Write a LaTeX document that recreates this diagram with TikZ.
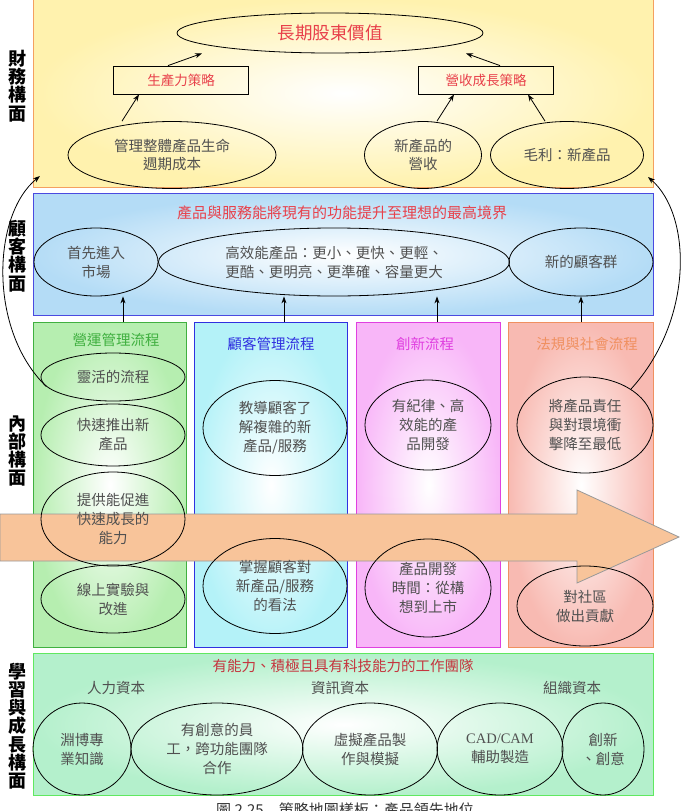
\documentclass[tikz,border=0pt]{standalone}
\usepackage{fontspec}
\setmainfont{Noto Sans CJK TC}
\newfontfamily\latinserif{Liberation Serif}
\usetikzlibrary{shapes.geometric,arrows.meta}
\definecolor{txtgray}{HTML}{505050}
\definecolor{redt}{HTML}{E8404A}
\definecolor{finfill}{HTML}{FFF2AE}
\definecolor{finedge}{HTML}{F4A060}
\definecolor{custfill}{HTML}{B4DCF6}
\definecolor{custedge}{HTML}{4A4AE0}
\definecolor{opsfill}{HTML}{B6EEB0}
\definecolor{opsedge}{HTML}{40B040}
\definecolor{cmfill}{HTML}{B4F2F8}
\definecolor{cmedge}{HTML}{3030E0}
\definecolor{innfill}{HTML}{F8B6F8}
\definecolor{innedge}{HTML}{E040E0}
\definecolor{legfill}{HTML}{F8BAB2}
\definecolor{legedge}{HTML}{F09060}
\definecolor{lrnfill}{HTML}{B4F0CC}
\definecolor{lrnedge}{HTML}{60E860}
\definecolor{bigarrow}{HTML}{F8C49A}
\begin{document}
\begin{tikzpicture}[x=1pt,y=-1pt,
  zone/.style={rectangle,line width=1.2pt,shading=radial,inner color=white,anchor=north west,inner sep=0pt},
  ell/.style={draw=black,ellipse,inner sep=0pt,align=center,text=txtgray,line width=0.8pt,font=\fontsize{14.5}{19}\selectfont},
  strat/.style={draw=black,rectangle,line width=0.8pt,minimum width=135pt,minimum height=28pt,text=redt,font=\fontsize{13.5}{16}\selectfont},
  lab/.style={align=center,font=\fontsize{18}{18.2}\selectfont\bfseries,inner sep=0pt},
  ttl/.style={font=\fontsize{14.5}{17}\selectfont,inner sep=0pt},
  arr/.style={-{Stealth[length=7pt,width=5pt]},line width=0.8pt}]
\useasboundingbox[fill=white] (0,0) rectangle (680,811);

% zones
\node[zone,draw=finedge,outer color=finfill,minimum width=620pt,minimum height=189pt] (fin) at (33,-2) {};
\node[zone,draw=custedge,outer color=custfill,minimum width=620pt,minimum height=122pt] (cust) at (33,193) {};
\node[zone,draw=opsedge,outer color=opsfill,minimum width=153pt,minimum height=325pt] (ops) at (33,322) {};
\node[zone,draw=cmedge,outer color=cmfill,minimum width=153pt,minimum height=325pt] (cm) at (194,322) {};
\node[zone,draw=innedge,outer color=innfill,minimum width=144pt,minimum height=325pt] (inn) at (356,322) {};
\node[zone,draw=legedge,outer color=legfill,minimum width=145pt,minimum height=325pt] (leg) at (508,322) {};
\node[zone,draw=lrnedge,outer color=lrnfill,minimum width=620pt,minimum height=142pt] (lrn) at (33,653) {};

% side labels
\node[lab] (lfin) at (18,86) {財\\務\\構\\面};
\node[lab] (lcust) at (18,256) {顧\\客\\構\\面};
\node[lab] (lint) at (18,451) {內\\部\\構\\面};
\node[lab] (llrn) at (18,726) {學\\習\\與\\成\\長\\構\\面};

% big arrow
\path[fill=bigarrow,draw=gray!80,line width=0.8pt] (0,514) -- (577,514) -- (577,490) -- (679,537) -- (577,583) -- (577,561) -- (0,561) -- cycle;

% financial
\node[draw=black,ellipse,inner sep=0pt,line width=0.8pt,minimum width=306pt,minimum height=40pt,text=redt,font=\fontsize{17.5}{20}\selectfont] (value) at (330,33) {長期股東價值};
\node[strat] (prod) at (181,80) {生產力策略};
\node[strat] (grow) at (486,80) {營收成長策略};
\node[ell,minimum width=208pt,minimum height=67pt,font=\fontsize{14.5}{18}\selectfont] (cost) at (172,155) {管理整體產品生命\\週期成本};
\node[ell,minimum width=117pt,minimum height=67pt,font=\fontsize{14.5}{18}\selectfont] (rev) at (423,155) {新產品的\\營收};
\node[ell,minimum width=153pt,minimum height=67pt] (margin) at (567,155) {毛利：新產品};
\draw[arr] (cost.north -| 122,0) -- (prod.south -| 139,0);
\draw[arr] (prod.north -| 168,0) -- (value.south -| 202,0);
\draw[arr] (grow.north -| 500,0) -- (value.south -| 466,0);
\draw[arr] (rev.north -| 437,0) -- (grow.south -| 454,0);
\draw[arr] (margin.north -| 545,0) -- (grow.south -| 528,0);

% customer
\node[ttl,text=redt,font=\fontsize{15}{17}\selectfont] (custttl) at (342,213) {產品與服務能將現有的功能提升至理想的最高境界};
\node[ell,minimum width=124pt,minimum height=68pt] (first) at (96,262) {首先進入\\市場};
\node[ell,minimum width=351pt,minimum height=68pt] (perf) at (334,262) {高效能產品：更小、更快、更輕、\\更酷、更明亮、更準確、容量更大};
\node[ell,minimum width=144pt,minimum height=68pt] (newc) at (581,262) {新的顧客群};

% internal titles
\node[ttl,text=opsedge] (opsttl) at (116,340) {營運管理流程};
\node[ttl,text=cmedge] (cmttl) at (271,344) {顧客管理流程};
\node[ttl,text=innedge] (innttl) at (425,344) {創新流程};
\node[ttl,text=legedge] (legttl) at (587,344) {法規與社會流程};

% internal ellipses
\node[ell,minimum width=144pt,minimum height=48pt] (ops1) at (113,377) {靈活的流程};
\node[ell,minimum width=144pt,minimum height=62pt] (ops2) at (113,435) {快速推出新\\產品};
\node[ell,minimum width=144pt,minimum height=94pt] (ops3) at (113,519) {提供能促進\\快速成長的\\能力};
\node[ell,minimum width=144pt,minimum height=68pt] (ops4) at (113,599) {線上實驗與\\改進};
\node[ell,minimum width=144pt,minimum height=95pt] (cm1) at (275,428) {教導顧客了\\解複雜的新\\產品/服務};
\node[ell,minimum width=144pt,minimum height=95pt] (cm2) at (275,586) {掌握顧客對\\新產品/服務\\的看法};
\node[ell,minimum width=126pt,minimum height=90pt] (inn1) at (428,425) {有紀律、高\\效能的產\\品開發};
\node[ell,minimum width=126pt,minimum height=98pt] (inn2) at (428,588) {產品開發\\時間：從構\\想到上市};
\node[ell,minimum width=136pt,minimum height=96pt] (leg1) at (585,425) {將產品責任\\與對環境衝\\擊降至最低};
\node[ell,minimum width=136pt,minimum height=80pt] (leg2) at (585,606) {對社區\\做出貢獻};

% internal -> customer
\draw[arr] (ops.north -| 123,0) -- (first.south -| 123,0);
\draw[arr] (cm.north -| 284,0) -- (perf.south -| 284,0);
\draw[arr] (inn.north -| 437,0) -- (perf.south -| 437,0);
\draw[arr] (leg.north -| 581,0) -- (newc.south);

% curved arrows to financial
\coordinate (finL) at (40,176);
\coordinate (finR) at (648,177);
\draw[arr] (ops1.188) .. controls (-12,330) and (-8,215) .. (finL);
\draw[arr] (leg1.38) .. controls (694,320) and (692,215) .. (finR);

% learning
\node[ttl,text=redt!85!black,font=\fontsize{14.5}{17}\selectfont] (lrnttl) at (343,666) {有能力、積極且具有科技能力的工作團隊};
\node[ttl,text=txtgray] (hc) at (116,688) {人力資本};
\node[ttl,text=txtgray] (ic) at (340,688) {資訊資本};
\node[ttl,text=txtgray] (oc) at (572,688) {組織資本};
\node[ell,minimum width=98pt,minimum height=92pt] (l1) at (82,749) {淵博專\\業知識};
\node[ell,minimum width=172pt,minimum height=92pt] (l2) at (217,749) {有創意的員\\工，跨功能團隊\\合作};
\node[ell,minimum width=135pt,minimum height=92pt] (l3) at (370,749) {虛擬產品製\\作與模擬};
\node[ell,minimum width=126pt,minimum height=92pt] (l4) at (500,749) {{\latinserif CAD/CAM}\\輔助製造};
\node[ell,minimum width=82pt,minimum height=92pt] (l5) at (603,749) {創新\\、創意};

% caption (cut by the page edge)
\node[inner sep=0pt,font=\fontsize{15}{17}\selectfont,text=black!80] (cap) at (345,810) {圖 2.25\quad 策略地圖樣板：產品領先地位};
\end{tikzpicture}
\end{document}
